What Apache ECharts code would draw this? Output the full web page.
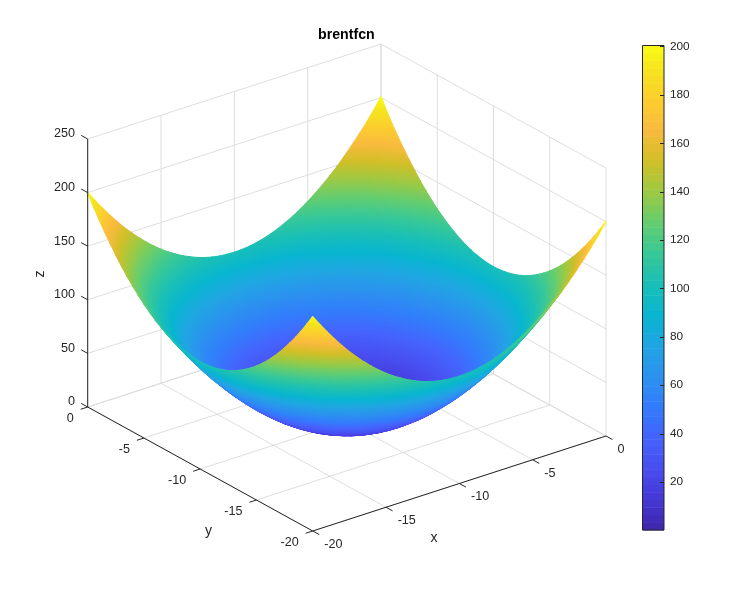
<!DOCTYPE html>
<html>
<head>
<meta charset="utf-8">
<title>brentfcn</title>
<script src="https://cdn.jsdelivr.net/npm/echarts@6/dist/echarts.min.js"></script>
<style>
  html, body { margin: 0; padding: 0; background: #fff; }
  #chart { width: 756px; height: 597px; }
</style>
</head>
<body>
<div id="chart"></div>
<script>
const xValues = [-20,-19.5,-19,-18.5,-18,-17.5,-17,-16.5,-16,-15.5,-15,-14.5,-14,-13.5,-13,-12.5,-12,-11.5,-11,-10.5,-10,-9.5,-9,-8.5,-8,-7.5,-7,-6.5,-6,-5.5,-5,-4.5,-4,-3.5,-3,-2.5,-2,-1.5,-1,-0.5,0]
const yValues = xValues.slice()
// the bowl is symmetric about x=-10 and y=-10: z for x and y from -20 to -10
const zQuadrant = [
  [200,190.25,181,172.25,164,156.25,149,142.25,136,130.25,125,120.25,116,112.25,109,106.25,104,102.25,101,100.25,100],
  [190.25,180.5,171.25,162.5,154.25,146.5,139.25,132.5,126.25,120.5,115.25,110.5,106.25,102.5,99.25,96.5,94.25,92.5,91.25,90.5,90.25],
  [181,171.25,162,153.25,145,137.25,130,123.25,117,111.25,106,101.25,97,93.25,90,87.25,85,83.25,82,81.25,81],
  [172.25,162.5,153.25,144.5,136.25,128.5,121.25,114.5,108.25,102.5,97.25,92.5,88.25,84.5,81.25,78.5,76.25,74.5,73.25,72.5,72.25],
  [164,154.25,145,136.25,128,120.25,113,106.25,100,94.25,89,84.25,80,76.25,73,70.25,68,66.25,65,64.25,64],
  [156.25,146.5,137.25,128.5,120.25,112.5,105.25,98.5,92.25,86.5,81.25,76.5,72.25,68.5,65.25,62.5,60.25,58.5,57.25,56.5,56.25],
  [149,139.25,130,121.25,113,105.25,98,91.25,85,79.25,74,69.25,65,61.25,58,55.25,53,51.25,50,49.25,49],
  [142.25,132.5,123.25,114.5,106.25,98.5,91.25,84.5,78.25,72.5,67.25,62.5,58.25,54.5,51.25,48.5,46.25,44.5,43.25,42.5,42.25],
  [136,126.25,117,108.25,100,92.25,85,78.25,72,66.25,61,56.25,52,48.25,45,42.25,40,38.25,37,36.25,36],
  [130.25,120.5,111.25,102.5,94.25,86.5,79.25,72.5,66.25,60.5,55.25,50.5,46.25,42.5,39.25,36.5,34.25,32.5,31.25,30.5,30.25],
  [125,115.25,106,97.25,89,81.25,74,67.25,61,55.25,50,45.25,41,37.25,34,31.25,29,27.25,26,25.25,25],
  [120.25,110.5,101.25,92.5,84.25,76.5,69.25,62.5,56.25,50.5,45.25,40.5,36.25,32.5,29.25,26.5,24.25,22.5,21.25,20.5,20.25],
  [116,106.25,97,88.25,80,72.25,65,58.25,52,46.25,41,36.25,32,28.25,25,22.25,20,18.25,17,16.25,16],
  [112.25,102.5,93.25,84.5,76.25,68.5,61.25,54.5,48.25,42.5,37.25,32.5,28.25,24.5,21.25,18.5,16.25,14.5,13.25,12.5,12.25],
  [109,99.25,90,81.25,73,65.25,58,51.25,45,39.25,34,29.25,25,21.25,18,15.25,13,11.25,10,9.25,9],
  [106.25,96.5,87.25,78.5,70.25,62.5,55.25,48.5,42.25,36.5,31.25,26.5,22.25,18.5,15.25,12.5,10.25,8.5,7.25,6.5,6.25],
  [104,94.25,85,76.25,68,60.25,53,46.25,40,34.25,29,24.25,20,16.25,13,10.25,8,6.25,5,4.25,4],
  [102.25,92.5,83.25,74.5,66.25,58.5,51.25,44.5,38.25,32.5,27.25,22.5,18.25,14.5,11.25,8.5,6.25,4.5,3.25,2.5,2.25],
  [101,91.25,82,73.25,65,57.25,50,43.25,37,31.25,26,21.25,17,13.25,10,7.25,5,3.25,2,1.25,1],
  [100.25,90.5,81.25,72.5,64.25,56.5,49.25,42.5,36.25,30.5,25.25,20.5,16.25,12.5,9.25,6.5,4.25,2.5,1.25,0.5,0.25],
  [100,90.25,81,72.25,64,56.25,49,42.25,36,30.25,25,20.25,16,12.25,9,6.25,4,2.25,1,0.25,0]
]
const zPeak = 201   // far corner x=0, y=0

const xTicks = [-20,-15,-10,-5,0]
const yTicks = [-20,-15,-10,-5,0]
const zTicks = [0,50,100,150,200,250]
const colorbarTicks = [20,40,60,80,100,120,140,160,180,200]

// parula, every 4th of the 64 levels
const parula = ['#3e26a8','#4537d5','#484df0','#4563fd','#327cfc','#2b91ef','#20a5e3','#08b5d0','#19bfb6','#37c897','#64cd6f','#9dc943','#d1bf27','#f8ba3d','#fcce2e','#f5e41d','#f9fb15']
const colorMin = 0.16
const colorMax = 200.4

const FONT = '"Liberation Sans", Arial, sans-serif'
const TICK_COLOR = '#262626'
const GRID_COLOR = '#dadada'

const mirror = list => [...list, ...list.slice(0, -1).reverse()]
const zValues = mirror(zQuadrant.map(mirror))
zValues[40] = zValues[40].slice()
zValues[40][40] = zPeak

// orthographic view: pixel position of the box corners
const front = [312.7, 531]   // x=-20, y=-20, z=0
const right = [606, 436]     // x=0, y=-20, z=0
const left = [87.7, 407]     // x=-20, y=0, z=0
const zScale = 268 / 250

const project = (x, y, z) => {
  const u = (x + 20) / 20
  const v = (y + 20) / 20
  return [
    front[0] + u * (right[0] - front[0]) + v * (left[0] - front[0]),
    front[1] + u * (right[1] - front[1]) + v * (left[1] - front[1]) - z * zScale
  ]
}

const colorOf = z => {
  const t = Math.min(1, Math.max(0, (z - colorMin) / (colorMax - colorMin)))
  const pos = t * 63 / 4
  const i = Math.min(Math.floor(pos), 15)
  const f = Math.min(1, (pos - i) / (i === 15 ? 0.75 : 1))
  return echarts.color.lerp(f, [parula[i], parula[i + 1]])
}

// z at which each parula entry sits, the same bends for every triangle
const colorKnots = parula.map((c, i) => colorMin + (colorMax - colorMin) * Math.min(1, i * 4 / 63))

// fill of one triangle: a linear gradient that follows z across the screen
const triangleFill = (p, z) => {
  const zLow = Math.min(z[0], z[1], z[2])
  const zHigh = Math.max(z[0], z[1], z[2])
  const e1 = [p[1][0] - p[0][0], p[1][1] - p[0][1]]
  const e2 = [p[2][0] - p[0][0], p[2][1] - p[0][1]]
  const det = e1[0] * e2[1] - e1[1] * e2[0]
  if (Math.abs(det) < 0.2 || zHigh - zLow < 0.01) {
    return colorOf((z[0] + z[1] + z[2]) / 3)
  }
  const dz1 = z[1] - z[0]
  const dz2 = z[2] - z[0]
  const gx = (dz1 * e2[1] - dz2 * e1[1]) / det
  const gy = (dz2 * e1[0] - dz1 * e2[0]) / det
  const k = (zHigh - zLow) / (gx * gx + gy * gy)
  const start = p[z.indexOf(zLow)]
  const levels = [zLow, ...colorKnots.filter(v => v > zLow && v < zHigh), zHigh]
  const stops = levels.map(v => ({ offset: (v - zLow) / (zHigh - zLow), color: colorOf(v) }))
  return new echarts.graphic.LinearGradient(start[0], start[1], start[0] + gx * k, start[1] + gy * k, stops, true)
}

// two triangles per grid cell, far corner (x=0, y=0) first
const triangles = []
for (let r = 0; r < yValues.length - 1; r++) {
  for (let c = 0; c < xValues.length - 1; c++) {
    const a = [xValues[c], yValues[r], zValues[r][c]]
    const b = [xValues[c + 1], yValues[r], zValues[r][c + 1]]
    const d = [xValues[c], yValues[r + 1], zValues[r + 1][c]]
    const e = [xValues[c + 1], yValues[r + 1], zValues[r + 1][c + 1]]
    triangles.push([...a, ...b, ...d], [...b, ...e, ...d])
  }
}
const depth = t => t[0] + t[1] + t[3] + t[4] + t[6] + t[7]
triangles.sort((s, t) => depth(t) - depth(s))

const surfaceItem = (params, api) => {
  const p = []
  const z = []
  for (let i = 0; i < 3; i++) {
    const v = project(api.value(i * 3), api.value(i * 3 + 1), api.value(i * 3 + 2))
    p.push(api.coord(v))
    z.push(api.value(i * 3 + 2))
  }
  const fill = triangleFill(p, z)
  // wide stroke so no white shows through the anti-aliased seams
  return {
    type: 'polygon',
    shape: { points: p },
    style: { fill: fill, stroke: fill, lineWidth: 1.2, lineJoin: 'round' }
  }
}

const lineItem = (color, width) => (params, api) => {
  const a = api.coord(project(api.value(0), api.value(1), api.value(2)))
  const b = api.coord(project(api.value(3), api.value(4), api.value(5)))
  return {
    type: 'line',
    shape: { x1: a[0], y1: a[1], x2: b[0], y2: b[1] },
    style: { stroke: color, lineWidth: width }
  }
}

// light lines on the floor and the two back walls
const gridLines = []
xTicks.forEach(x => {
  gridLines.push([x, -20, 0, x, 0, 0], [x, 0, 0, x, 0, 250])
})
yTicks.forEach(y => {
  gridLines.push([-20, y, 0, 0, y, 0], [0, y, 0, 0, y, 250])
})
zTicks.forEach(z => {
  gridLines.push([-20, 0, z, 0, 0, z], [0, 0, z, 0, -20, z])
})

// dark axis lines and tick marks
const axisLines = [
  [-20, 0, 0, -20, 0, 250],
  [-20, 0, 0, -20, -20, 0],
  [-20, -20, 0, 0, -20, 0]
]
xTicks.forEach(x => axisLines.push([x, -20, 0, x, -20.58, 0]))
yTicks.forEach(y => axisLines.push([-20, y, 0, -20.48, y, 0]))
zTicks.forEach(z => axisLines.push([-20, 0, z, -20, 0.58, z]))

// tick labels, placed off the axis point
const labels = []
xTicks.forEach(x => labels.push({ at: [x, -20, 0], text: String(x), dx: 11.6, dy: 13.5, align: 'left' }))
yTicks.forEach(y => labels.push({ at: [-20, y, 0], text: String(y), dx: -14, dy: 11.5, align: 'right' }))
zTicks.forEach(z => labels.push({ at: [-20, 0, z], text: String(z), dx: -12.7, dy: -5, align: 'right' }))

const labelItem = (params, api) => {
  const item = labels[params.dataIndex]
  const p = api.coord(project(item.at[0], item.at[1], item.at[2]))
  return {
    type: 'text',
    style: {
      text: item.text,
      x: p[0] + item.dx,
      y: p[1] + item.dy,
      align: item.align,
      verticalAlign: 'middle',
      font: '12.6px ' + FONT,
      fill: TICK_COLOR
    }
  }
}

const axisNames = [
  { text: 'x', pos: [434, 538], rotation: 0 },
  { text: 'y', pos: [208.5, 531], rotation: 0 },
  { text: 'z', pos: [40, 274], rotation: Math.PI / 2 }
]

const axisNameItem = (params, api) => {
  const item = axisNames[params.dataIndex]
  const p = api.coord(item.pos)
  return {
    type: 'text',
    x: p[0],
    y: p[1],
    rotation: item.rotation,
    style: {
      text: item.text,
      align: 'center',
      verticalAlign: 'middle',
      font: '14px ' + FONT,
      fill: TICK_COLOR
    }
  }
}

// colorbar: 64 flat bands
const bandCount = 64
const bands = []
for (let i = 0; i < bandCount; i++) {
  const low = colorMin + (colorMax - colorMin) * i / bandCount
  const high = colorMin + (colorMax - colorMin) * (i + 1) / bandCount
  bands.push([low, high])
}

const bandItem = (params, api) => {
  const low = api.value(0)
  const high = api.value(1)
  const a = api.coord([0, low])
  const b = api.coord([1, high])
  return {
    type: 'rect',
    shape: { x: a[0], y: b[1], width: b[0] - a[0], height: a[1] - b[1] + 0.5 },
    style: { fill: colorOf((low + high) / 2) }
  }
}

const barFrameItem = (params, api) => {
  const a = api.coord([0, colorMin])
  const b = api.coord([1, colorMax])
  return {
    type: 'rect',
    shape: { x: a[0], y: b[1], width: b[0] - a[0], height: a[1] - b[1] },
    style: { fill: 'none', stroke: TICK_COLOR, lineWidth: 1 }
  }
}

const barTickItem = (params, api) => {
  const p = api.coord([1, api.value(0)])
  const y = Math.round(p[1]) + 0.5
  return {
    type: 'line',
    shape: { x1: p[0], y1: y, x2: p[0] - 4, y2: y },
    style: { stroke: TICK_COLOR, lineWidth: 1 }
  }
}

const customSeries = (axisIndex, data, renderItem, z) => ({
  type: 'custom',
  coordinateSystem: 'cartesian2d',
  xAxisIndex: axisIndex,
  yAxisIndex: axisIndex,
  data: data,
  renderItem: renderItem,
  clip: false,
  silent: true,
  animation: false,
  progressive: 0,
  z: z
})

const chart = echarts.init(document.getElementById('chart'))

chart.setOption({
  backgroundColor: '#fff',
  animation: false,
  title: {
    text: 'brentfcn',
    left: 313,
    top: 23,
    textStyle: { fontFamily: FONT, fontSize: 14.2, fontWeight: 'bold', color: '#000' }
  },
  grid: [
    { left: 0, top: 0, right: 0, bottom: 0 },
    { left: 642.5, top: 45.5, width: 21.5, height: 484.5 }
  ],
  xAxis: [
    { type: 'value', gridIndex: 0, min: 0, max: 756, show: false },
    { type: 'value', gridIndex: 1, min: 0, max: 1, show: false }
  ],
  yAxis: [
    { type: 'value', gridIndex: 0, min: 0, max: 597, inverse: true, show: false },
    {
      type: 'value',
      gridIndex: 1,
      position: 'right',
      min: colorMin,
      max: colorMax,
      axisLine: { show: false },
      splitLine: { show: false },
      axisTick: { show: false },
      axisLabel: {
        show: true,
        margin: 6,
        customValues: colorbarTicks,
        color: TICK_COLOR,
        fontFamily: FONT,
        fontSize: 11.8
      }
    }
  ],
  series: [
    customSeries(0, gridLines, lineItem(GRID_COLOR, 0.9), 1),
    customSeries(0, triangles, surfaceItem, 2),
    customSeries(0, axisLines, lineItem(TICK_COLOR, 1), 3),
    customSeries(0, labels.map((d, i) => [i]), labelItem, 4),
    customSeries(0, axisNames.map((d, i) => [i]), axisNameItem, 4),
    customSeries(1, bands, bandItem, 2),
    customSeries(1, [[0]], barFrameItem, 3),
    customSeries(1, colorbarTicks.map(v => [v]), barTickItem, 4)
  ]
})

window.addEventListener('resize', () => chart.resize())
</script>
</body>
</html>
